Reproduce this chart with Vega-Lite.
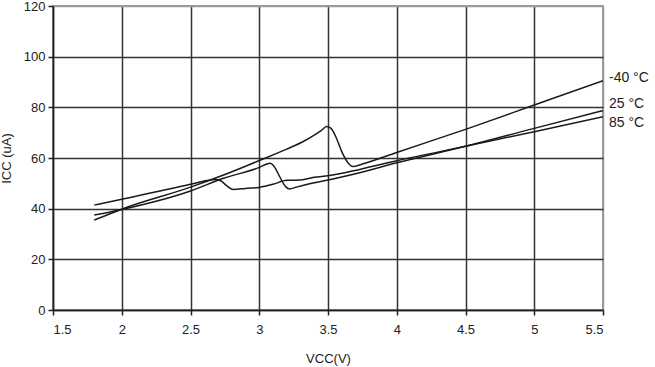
{
  "$schema": "https://vega.github.io/schema/vega-lite/v6.json",
  "width": 550,
  "height": 304,
  "autosize": "none",
  "padding": {"left": 53, "top": 6, "right": 52, "bottom": 57},
  "background": "white",
  "config": {
    "view": {"stroke": "#9a9a9a", "strokeWidth": 2},
    "font": "Liberation Sans",
    "axis": {
      "labelFont": "Liberation Sans",
      "titleFont": "Liberation Sans",
      "labelFontSize": 13,
      "titleFontSize": 13,
      "labelColor": "#222",
      "titleColor": "#222",
      "titleFontWeight": "normal",
      "domainColor": "#222",
      "domainWidth": 1.5,
      "tickColor": "#222",
      "tickWidth": 1.5,
      "tickSize": 5,
      "gridWidth": 1.5
    }
  },
  "datasets": {
    "curves": [
      {"v": 1.8, "i": 35.5, "t": "-40 °C"},
      {"v": 2.0, "i": 39.8, "t": "-40 °C"},
      {"v": 2.5, "i": 48.5, "t": "-40 °C"},
      {"v": 2.75, "i": 53.5, "t": "-40 °C"},
      {"v": 3.0, "i": 59.0, "t": "-40 °C"},
      {"v": 3.2, "i": 63.5, "t": "-40 °C"},
      {"v": 3.32, "i": 66.5, "t": "-40 °C"},
      {"v": 3.4, "i": 69.0, "t": "-40 °C"},
      {"v": 3.45, "i": 70.8, "t": "-40 °C"},
      {"v": 3.49, "i": 72.4, "t": "-40 °C"},
      {"v": 3.52, "i": 71.8, "t": "-40 °C"},
      {"v": 3.56, "i": 68.0, "t": "-40 °C"},
      {"v": 3.6, "i": 62.5, "t": "-40 °C"},
      {"v": 3.64, "i": 58.5, "t": "-40 °C"},
      {"v": 3.68, "i": 56.6, "t": "-40 °C"},
      {"v": 3.75, "i": 57.6, "t": "-40 °C"},
      {"v": 4.0, "i": 62.2, "t": "-40 °C"},
      {"v": 4.5, "i": 71.3, "t": "-40 °C"},
      {"v": 5.0, "i": 80.9, "t": "-40 °C"},
      {"v": 5.5, "i": 90.5, "t": "-40 °C"},
      {"v": 1.8, "i": 37.5, "t": "25 °C"},
      {"v": 2.0, "i": 39.7, "t": "25 °C"},
      {"v": 2.5, "i": 47.0, "t": "25 °C"},
      {"v": 2.74, "i": 52.0, "t": "25 °C"},
      {"v": 3.0, "i": 56.3, "t": "25 °C"},
      {"v": 3.05, "i": 57.5, "t": "25 °C"},
      {"v": 3.08, "i": 57.9, "t": "25 °C"},
      {"v": 3.11, "i": 56.5, "t": "25 °C"},
      {"v": 3.15, "i": 52.5, "t": "25 °C"},
      {"v": 3.19, "i": 48.8, "t": "25 °C"},
      {"v": 3.22, "i": 47.8, "t": "25 °C"},
      {"v": 3.27, "i": 48.5, "t": "25 °C"},
      {"v": 3.4, "i": 50.2, "t": "25 °C"},
      {"v": 3.5, "i": 51.3, "t": "25 °C"},
      {"v": 3.73, "i": 54.2, "t": "25 °C"},
      {"v": 4.0, "i": 58.1, "t": "25 °C"},
      {"v": 4.5, "i": 64.6, "t": "25 °C"},
      {"v": 5.0, "i": 71.7, "t": "25 °C"},
      {"v": 5.5, "i": 78.7, "t": "25 °C"},
      {"v": 1.8, "i": 41.4, "t": "85 °C"},
      {"v": 2.0, "i": 43.7, "t": "85 °C"},
      {"v": 2.5, "i": 49.6, "t": "85 °C"},
      {"v": 2.62, "i": 51.1, "t": "85 °C"},
      {"v": 2.68, "i": 51.5, "t": "85 °C"},
      {"v": 2.72, "i": 51.0, "t": "85 °C"},
      {"v": 2.76, "i": 49.2, "t": "85 °C"},
      {"v": 2.81, "i": 47.6, "t": "85 °C"},
      {"v": 2.9, "i": 48.0, "t": "85 °C"},
      {"v": 3.0, "i": 48.4, "t": "85 °C"},
      {"v": 3.1, "i": 49.6, "t": "85 °C"},
      {"v": 3.2, "i": 51.2, "t": "85 °C"},
      {"v": 3.3, "i": 51.3, "t": "85 °C"},
      {"v": 3.4, "i": 52.4, "t": "85 °C"},
      {"v": 3.5, "i": 53.0, "t": "85 °C"},
      {"v": 3.73, "i": 55.5, "t": "85 °C"},
      {"v": 4.0, "i": 58.9, "t": "85 °C"},
      {"v": 4.5, "i": 64.6, "t": "85 °C"},
      {"v": 5.0, "i": 70.4, "t": "85 °C"},
      {"v": 5.5, "i": 76.3, "t": "85 °C"}
    ],
    "labels": [
      {"v": 5.5, "i": 91.5, "t": "-40 °C"},
      {"v": 5.5, "i": 81.5, "t": "25 °C"},
      {"v": 5.5, "i": 74.0, "t": "85 °C"}
    ]
  },
  "layer": [
    {
      "data": {"name": "curves"},
      "mark": {"type": "line", "interpolate": "monotone", "color": "#1a1a1a", "strokeWidth": 1.5, "clip": true},
      "encoding": {
        "x": {
          "field": "v", "type": "quantitative",
          "scale": {"domain": [1.5, 5.5], "nice": false, "zero": false},
          "axis": {
            "values": [1.5, 2, 2.5, 3, 3.5, 4, 4.5, 5, 5.5],
            "format": "~g",
            "title": "VCC(V)",
            "titlePadding": 16,
            "labelPadding": 8,
            "gridColor": {"condition": {"test": "datum.value >= 5.5", "value": "#9a9a9a"}, "value": "#333333"}
          }
        },
        "y": {
          "field": "i", "type": "quantitative",
          "scale": {"domain": [0, 120], "nice": false},
          "axis": {
            "values": [0, 20, 40, 60, 80, 100, 120],
            "title": "ICC (uA)",
            "titlePadding": 10,
            "labelPadding": 3,
            "gridColor": {"condition": {"test": "datum.value >= 120", "value": "#9a9a9a"}, "value": "#333333"}
          }
        },
        "detail": {"field": "t"}
      }
    },
    {
      "data": {"name": "labels"},
      "mark": {"type": "text", "align": "left", "baseline": "middle", "dx": 6, "fontSize": 14, "font": "Liberation Sans", "color": "#222"},
      "encoding": {
        "x": {"field": "v", "type": "quantitative"},
        "y": {"field": "i", "type": "quantitative"},
        "text": {"field": "t"}
      }
    }
  ]
}
